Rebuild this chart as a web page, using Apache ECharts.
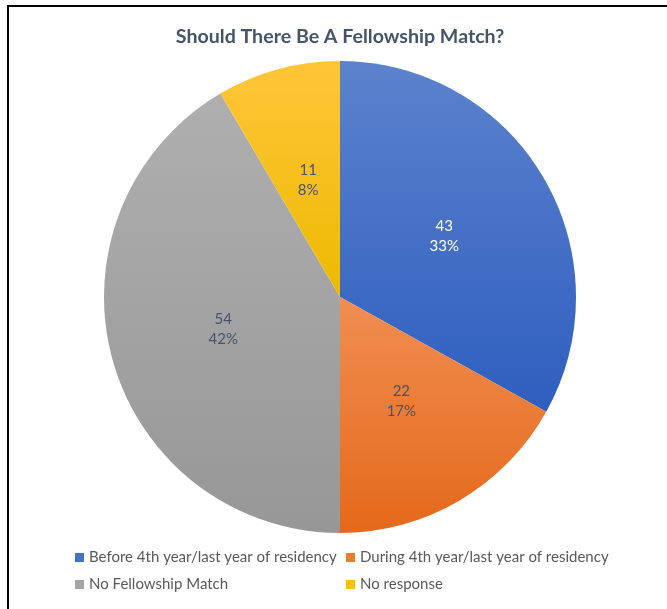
<!DOCTYPE html>
<html>
<head>
<meta charset="utf-8">
<script src="https://cdn.jsdelivr.net/npm/echarts@6/dist/echarts.min.js"></script>
<style>
  html, body { margin: 0; padding: 0; background: #fff; }
  .echarts { width: 667px; height: 609px; }
</style>
</head>
<body>
<div class="echarts" id="chart"></div>
<script>
// survey answers
const categories = [
  'Before 4th year/last year of residency',
  'During 4th year/last year of residency',
  'No Fellowship Match',
  'No response'
];
const counts = [43, 22, 54, 11];

// excel-ish palette, top/bottom of each slice gradient
const baseColors = ['#4472C4', '#ED7D31', '#A5A5A5', '#FFC000'];
const topColors = ['#5C82CD', '#F08E52', '#AFAFAF', '#FFC53A'];
const bottomColors = ['#2E5EBF', '#E4691A', '#979797', '#EDBA00'];
const labelColors = ['#ffffff', '#44546A', '#44546A', '#44546A'];

const chart = echarts.init(document.getElementById('chart'));

const option = {
  animation: false,
  textStyle: { fontFamily: 'Lato' },
  title: {
    text: 'Should There Be A Fellowship Match?',
    left: 335,
    textAlign: 'center',
    top: 22,
    textStyle: {
      fontFamily: 'Lato',
      fontSize: 19.6,
      fontWeight: 'bold',
      color: '#44546A'
    }
  },
  // the black frame round the picture
  graphic: [
    {
      type: 'polyline',
      shape: { points: [[8, 700], [8, 6], [700, 6]] },
      style: { stroke: '#000', lineWidth: 2, fill: null }
    }
  ],
  legend: {
    left: 70,
    top: 539,
    width: 580,
    orient: 'horizontal',
    icon: 'rect',
    itemWidth: 9,
    itemHeight: 9,
    itemGap: 0,
    data: categories.map((name, i) => ({
      name: name,
      itemStyle: { color: baseColors[i] }
    })),
    textStyle: {
      fontFamily: 'Lato',
      fontSize: 15,
      color: '#595959',
      width: 257,
      lineHeight: 27
    }
  },
  series: [
    {
      type: 'pie',
      center: [340, 297],
      radius: 236,
      startAngle: 90,
      clockwise: true,
      avoidLabelOverlap: false,
      emphasis: { disabled: true },
      label: {
        show: true,
        position: 'inside',
        fontFamily: 'Lato',
        fontSize: 15,
        lineHeight: 20,
        formatter: (p) => p.value + '\n' + Math.round(p.percent) + '%'
      },
      labelLine: { show: false },
      data: categories.map((name, i) => ({
        name: name,
        value: counts[i],
        itemStyle: {
          color: new echarts.graphic.LinearGradient(0, 0, 0, 1, [
            { offset: 0, color: topColors[i] },
            { offset: 1, color: bottomColors[i] }
          ])
        },
        label: { color: labelColors[i] }
      }))
    }
  ]
};

chart.setOption(option);
</script>
</body>
</html>
